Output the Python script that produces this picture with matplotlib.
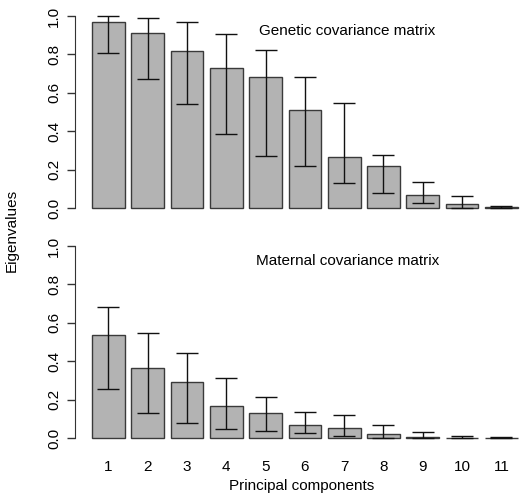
import numpy as np
import matplotlib
matplotlib.use('Agg')
from matplotlib import pyplot as plt

plt.rcParams['font.family'] = ['Liberation Sans', 'DejaVu Sans']

components = ['1', '2', '3', '4', '5', '6', '7', '8', '9', '10', '11']

gen_vals = [0.970, 0.913, 0.819, 0.727, 0.684, 0.512, 0.269, 0.222, 0.071, 0.024, 0.007]
gen_upper = [1.000, 0.991, 0.969, 0.904, 0.823, 0.684, 0.547, 0.276, 0.137, 0.064, 0.014]
gen_lower = [0.805, 0.674, 0.540, 0.384, 0.271, 0.222, 0.129, 0.082, 0.030, 0.002, 0.000]

mat_vals = [0.537, 0.364, 0.293, 0.166, 0.133, 0.068, 0.052, 0.021, 0.009, 0.003, 0.002]
mat_upper = [0.685, 0.549, 0.442, 0.315, 0.213, 0.139, 0.123, 0.068, 0.031, 0.014, 0.005]
mat_lower = [0.255, 0.130, 0.078, 0.047, 0.040, 0.028, 0.010, 0.000, 0.000, 0.000, 0.000]

W, H = 522, 495
fig = plt.figure(figsize=(W / 100, H / 100), dpi=100)

x = 0.7 + 1.2 * np.arange(len(components))
xlim = (-0.32, 13.33)
fs = 11

def panel(top_px, bottom_px, vals, lo, hi, title, show_x):
    ax = fig.add_axes([75 / W, 1 - bottom_px / H, (W - 75) / W, (bottom_px - top_px) / H])
    ax.bar(x, vals, width=1.0, color='#b3b3b3', edgecolor='#3a3a3a', linewidth=1.0)
    vals = np.array(vals)
    ax.errorbar(x, vals, yerr=[vals - np.array(lo), np.array(hi) - vals],
                fmt='none', ecolor='#111111', elinewidth=1.0, capsize=8, capthick=1.0)
    ax.set_xlim(*xlim)
    ax.set_ylim(-0.04, 1.04)
    for s in ['top', 'right', 'bottom']:
        ax.spines[s].set_visible(False)
    ax.spines['left'].set_bounds(0, 1)
    ax.spines['left'].set_color('#333333')
    ax.set_yticks(np.arange(0, 1.01, 0.2))
    ax.set_yticklabels(['%.1f' % v for v in np.arange(0, 1.01, 0.2)],
                       rotation=90, va='center', fontsize=fs)
    ax.tick_params(axis='y', length=6, width=1, pad=4, color='#333333')
    if show_x:
        ax.set_xticks(x)
        ax.set_xticklabels(components, fontsize=fs)
        ax.tick_params(axis='x', length=0, pad=10)
    else:
        ax.set_xticks([])
    ax.text(8.0, 0.92, title, ha='center', va='center', fontsize=fs)
    return ax

panel(8.3, 216, gen_vals, gen_lower, gen_upper, 'Genetic covariance matrix', False)
panel(238.3, 446, mat_vals, mat_lower, mat_upper, 'Maternal covariance matrix', True)

fig.text(12 / W, 1 - 230 / H, 'Eigenvalues', rotation=90, ha='center', va='center', fontsize=fs)
fig.text(302 / W, 1 - 486 / H, 'Principal components', ha='center', va='center', fontsize=fs)

fig.savefig('out.png', dpi=100)
